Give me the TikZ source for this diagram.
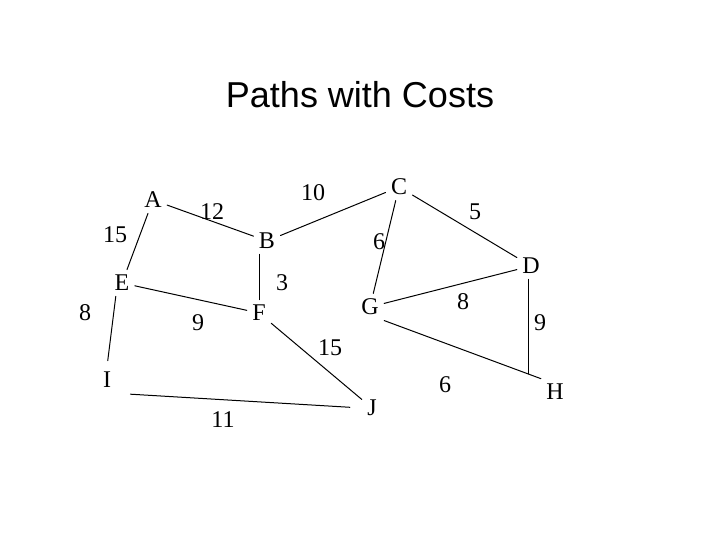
\documentclass[tikz,border=0pt]{standalone}
\usepackage{fontspec}
\setmainfont{Liberation Serif}
\newfontfamily\titlefont{Liberation Sans}
\begin{document}
\begin{tikzpicture}[x=1pt, y=-1pt, line join=round, line cap=round,
	font=\fontsize{24}{28}\selectfont,
	vertex/.style={inner sep=1.5pt, outer sep=4pt},
	cost/.style={inner sep=0pt},
	road/.style={line width=1pt}]
	\useasboundingbox (0,0) rectangle (720,540);
	
	% ==========================================
	% TITLE
	% ==========================================
	\node[font=\titlefont\fontsize{36}{42}\selectfont] (title) at (360,95) {Paths with Costs};
	
	% Cities A ... J
	\foreach \n/\x/\y in {A/153/200, B/267/241, C/399/187, D/531/266, E/122/283,
		F/259/313, G/370/307, H/555/392, I/107/380, J/372/408} {
		\node[vertex] (\n) at (\x,\y) {\n};
	}
	
	% Roads between cities
	\draw[road] (A) -- (E);
	\draw[road] (A) -- (B);
	\draw[road] (B) -- (C);
	\draw[road] (B.south -| F.north) -- (F.north);
	\draw[road] (C) -- (D);
	\draw[road] (C) -- (G);
	\draw[road] (G) -- (D);
	\draw[road] (G.south east) -- (H.north west);
	\draw[road, shorten >=5pt] ([xshift=-3pt]D.south) -- ([xshift=-3pt]D.south |- H.north);
	\draw[road] (E) -- (F);
	\draw[road, shorten >=6pt] (E.-115) -- (I.north);
	\draw[road] (F) -- (J);
	\draw[road, shorten <=14pt, shorten >=12pt] (I.south east) -- (J.west);
	
	% Costs on the roads
	\foreach \w/\x/\y [count=\k] in {15/115/235, 12/212/212, 10/313/193, 5/475/212,
		6/379/242, 3/282/283, 9/198/323, 8/85/313, 8/463/302, 9/540/323,
		15/330/348, 11/223/420, 6/445/385} {
		\node[cost] (cost\k) at (\x,\y) {\w};
	}
\end{tikzpicture}
\end{document}
